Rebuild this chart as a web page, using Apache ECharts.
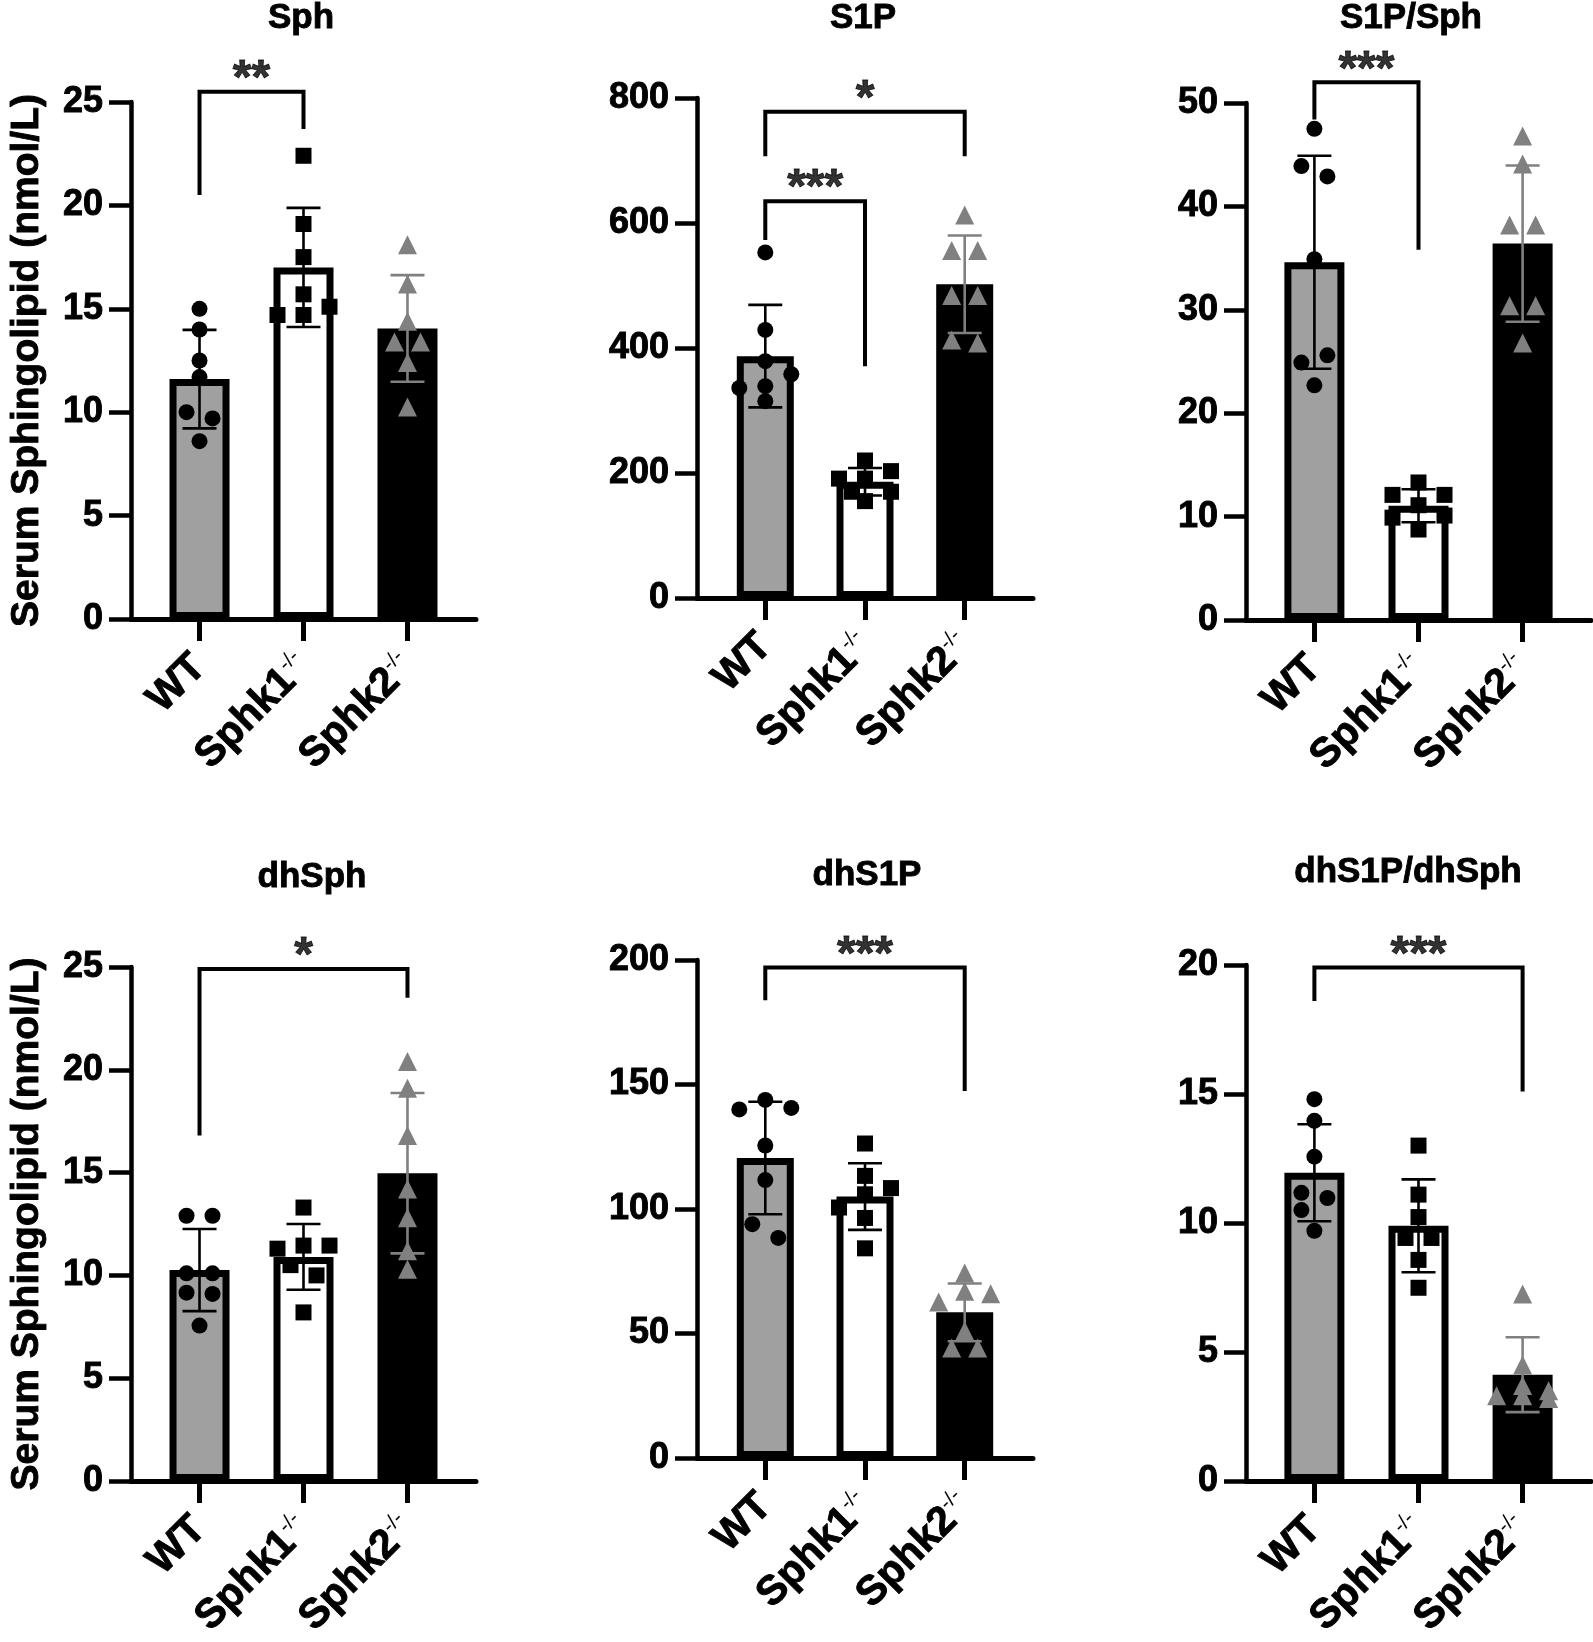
<!DOCTYPE html>
<html><head><meta charset="utf-8">
<script src="https://cdn.jsdelivr.net/npm/echarts@6/dist/echarts.min.js"></script>
<style>html,body{margin:0;padding:0;background:#fff}#c{width:1593px;height:1642px}</style>
</head><body><div id="c"></div>
<script>
// ---------------- DATA ----------------
const groups = ['WT', 'Sphk1', 'Sphk2'];
const panelTitles = ['Sph', 'S1P', 'S1P/Sph', 'dhSph', 'dhS1P', 'dhS1P/dhSph'];
const yMax = [25, 800, 50, 25, 200, 20];
const yStep = [5, 200, 10, 5, 50, 5];
const yName = 'Serum Sphingolipid (nmol/L)';

const sph_mean = [11.6, 17.0, 14.05];
const sph_sd = [2.38, 2.88, 2.58];
const sph_WT = [15.0, 14.0, 12.5, 11.7, 10.0, 9.7, 8.6];
const sph_Sphk1 = [22.4, 19.1, 17.5, 15.7, 15.1, 14.7, 14.7];
const sph_Sphk2 = [18.1, 16.2, 14.4, 13.4, 13.4, 12.4, 10.25];
const sph_sig = [[0, 1, 25.5, 20.5, 23.7, '**']];

const s1p_mean = [387, 186, 502];
const s1p_sd = [82, 22, 78];
const s1p_WT = [553, 429, 379, 358, 339, 336, 315];
const s1p_Sphk1 = [220, 203, 191, 191, 170, 170, 155];
const s1p_Sphk2 = [613, 556, 556, 484, 484, 408, 413];
const s1p_sig = [[0, 1, 635, 573, 371, '***'], [0, 2, 778, 707, 707, '*']];

const ratio_mean = [34.6, 11.05, 36.4];
const ratio_sd = [10.3, 1.6, 7.55];
const ratio_WT = [47.5, 43.9, 42.9, 34.9, 25.6, 24.9, 22.7];
const ratio_Sphk1 = [13.3, 12.1, 12.1, 11.1, 10.1, 9.9, 8.75];
const ratio_Sphk2 = [46.8, 44.1, 38.2, 38.2, 30.4, 30.4, 26.8];
const ratio_sig = [[0, 1, 52.0, 48.4, 35.8, '***']];

const dhsph_mean = [10.26, 10.9, 14.97];
const dhsph_sd = [2.0, 1.6, 3.9];
const dhsph_WT = [12.9, 12.9, 10.1, 10.1, 9.16, 9.1, 7.56];
const dhsph_Sphk1 = [13.3, 11.45, 11.45, 11.3, 10.5, 10.0, 8.2];
const dhsph_Sphk2 = [20.4, 19.1, 16.8, 14.2, 12.8, 11.2, 10.3];
const dhsph_sig = [[0, 2, 24.9, 16.8, 23.5, '*']];

const dhs1p_mean = [120.5, 105.0, 58.5];
const dhs1p_sd = [22.6, 13.4, 11.6];
const dhs1p_WT = [143.8, 140.6, 140.0, 125.5, 111.6, 93.9, 88.4];
const dhs1p_Sphk1 = [126.3, 113.3, 108.4, 105.9, 100.6, 96.4, 84.2];
const dhs1p_Sphk2 = [74.3, 67.0, 66.0, 62.7, 51.0, 44.2, 44.2];
const dhs1p_sig = [[0, 2, 197, 183.8, 147.4, '***']];

const dhratio_mean = [11.95, 9.89, 4.12];
const dhratio_sd = [1.88, 1.8, 1.45];
const dhratio_WT = [14.8, 13.96, 12.57, 11.17, 10.97, 10.5, 9.7];
const dhratio_Sphk1 = [13.0, 11.1, 10.23, 9.42, 9.42, 8.57, 7.49];
const dhratio_Sphk2 = [7.25, 4.5, 3.7, 3.5, 3.3, 3.3, 3.2];
const dhratio_sig = [[0, 2, 19.9, 18.6, 15.1, '***']];

const panelData = [
  { mean: sph_mean, sd: sph_sd, pts: [sph_WT, sph_Sphk1, sph_Sphk2], sig: sph_sig },
  { mean: s1p_mean, sd: s1p_sd, pts: [s1p_WT, s1p_Sphk1, s1p_Sphk2], sig: s1p_sig },
  { mean: ratio_mean, sd: ratio_sd, pts: [ratio_WT, ratio_Sphk1, ratio_Sphk2], sig: ratio_sig },
  { mean: dhsph_mean, sd: dhsph_sd, pts: [dhsph_WT, dhsph_Sphk1, dhsph_Sphk2], sig: dhsph_sig },
  { mean: dhs1p_mean, sd: dhs1p_sd, pts: [dhs1p_WT, dhs1p_Sphk1, dhs1p_Sphk2], sig: dhs1p_sig },
  { mean: dhratio_mean, sd: dhratio_sd, pts: [dhratio_WT, dhratio_Sphk1, dhratio_Sphk2], sig: dhratio_sig }
];

// ---------------- LAYOUT / STYLE ----------------
const FONT = '"Liberation Sans", Arial, Helvetica, sans-serif';
const layout = [
  { left: 131, top: 102, width: 345, height: 517, pad: 0.659, bw: 60, tx: 301, ty: 18 },
  { left: 697, top: 98, width: 336, height: 500, pad: 0.685, bw: 57, tx: 863, ty: 18 },
  { left: 1246, top: 103, width: 345, height: 517, pad: 0.657, bw: 60, tx: 1411, ty: 18 },
  { left: 131, top: 967, width: 345, height: 514, pad: 0.659, bw: 60, tx: 312, ty: 877 },
  { left: 697, top: 960, width: 336, height: 498, pad: 0.685, bw: 57, tx: 867, ty: 875 },
  { left: 1246, top: 965, width: 345, height: 516, pad: 0.657, bw: 60, tx: 1408, ty: 872 }
];
const barFill = ['#a0a0a0', '#ffffff', '#000000'];
const markColor = ['#000000', '#000000', '#808080'];
const symbols = ['circle', 'rect', 'triangle'];
const symSize = [16, 16, 19];
const RX = 24, RY = 14, STEP = 13;
const HEAVY = { textBorderColor: '#000', textBorderWidth: 0.9 };

// Prism-like spreading: points whose values would overlap are pushed sideways
function spread(values, pxPerY, pxPerX) {
  const pts = values.map(v => ({ v: v, y: v * pxPerY, x: 0 })).sort((a, b) => b.v - a.v);
  const placed = [];
  let side = 1;
  pts.forEach(p => {
    const cands = [0, side * 2 * STEP, -side * 2 * STEP, side * STEP, -side * STEP];
    let best = 0, bestCost = Infinity;
    for (const c of cands) {
      let cost = 0;
      placed.forEach(q => {
        const d2 = Math.pow((c - q.x) / RX, 2) + Math.pow((p.y - q.y) / RY, 2);
        if (d2 < 1) cost += 1 - d2;
      });
      if (cost < bestCost - 1e-9) { bestCost = cost; best = c; }
      if (cost === 0) break;
    }
    p.x = best;
    if (best !== 0) side = -Math.sign(best);
    placed.push(p);
  });
  let i = 0;
  while (i < pts.length) {
    let j = i;
    while (j + 1 < pts.length && pts[j].y - pts[j + 1].y < RY) j++;
    const xs = pts.slice(i, j + 1).map(p => p.x);
    const sh = (Math.min.apply(null, xs) + Math.max.apply(null, xs)) / 2;
    for (let k = i; k <= j; k++) pts[k].x -= sh;
    i = j + 1;
  }
  return pts.map(p => [p.x / pxPerX, p.v]);
}

const option = { animation: false, backgroundColor: '#fff', grid: [], xAxis: [], yAxis: [], series: [], graphic: [] };

layout.forEach((L, i) => {
  const D = panelData[i];
  option.grid.push({ left: L.left, top: L.top, width: L.width, height: L.height });
  option.graphic.push({ type: 'text', x: L.tx, y: L.ty, style: Object.assign({ text: panelTitles[i], font: 'bold 35px ' + FONT, fill: '#000', align: 'center', verticalAlign: 'middle', stroke: '#000', lineWidth: 0.9 }) });
  option.xAxis.push({
    type: 'value', gridIndex: i, min: -L.pad, max: 2 + L.pad,
    splitLine: { show: false },
    axisLine: { show: true, onZero: false, lineStyle: { color: '#000', width: 5 } },
    axisTick: { show: true, customValues: [0, 1, 2], length: 22, lineStyle: { color: '#000', width: 5 } },
    axisLabel: {
      show: true, customValues: [0, 1, 2], rotate: 45, margin: 42,
      formatter: v => { const g = groups[Math.round(v)]; return g === 'WT' ? '{a|WT}' : '{a|' + g + '}{s|-/-}'; },
      rich: {
        a: Object.assign({ fontFamily: FONT, fontSize: 41, fontWeight: 'bold', color: '#000', lineHeight: 42 }, HEAVY),
        s: { fontFamily: FONT, fontSize: 21, color: '#000', verticalAlign: 'top', lineHeight: 42 }
      }
    }
  });
  option.yAxis.push({
    type: 'value', gridIndex: i, min: 0, max: yMax[i], interval: yStep[i],
    splitLine: { show: false },
    axisLine: { show: true, onZero: false, lineStyle: { color: '#000', width: 4.5 } },
    axisTick: { show: true, length: 22, lineStyle: { color: '#000', width: 4.5 } },
    axisLabel: Object.assign({ fontFamily: FONT, fontSize: 36, fontWeight: 'bold', color: '#000', margin: 28 }, HEAVY),
    name: (i === 0 || i === 3) ? yName : '',
    nameLocation: 'middle', nameRotate: 90, nameGap: 84,
    nameTextStyle: Object.assign({ fontFamily: FONT, fontSize: 39, fontWeight: 'bold', color: '#000' }, HEAVY)
  });
  const pxPerY = L.height / yMax[i];
  const pxPerX = L.width / (2 + 2 * L.pad);

  // bars
  option.series.push({
    type: 'bar', xAxisIndex: i, yAxisIndex: i, barWidth: L.bw, z: 2,
    data: D.mean.map((m, j) => ({ value: [j, m], itemStyle: { color: barFill[j], borderColor: '#000', borderWidth: 7 } }))
  });
  // error bars (mean ± SD)
  option.series.push({
    type: 'custom', xAxisIndex: i, yAxisIndex: i, z: 3, clip: false,
    data: D.mean.map((m, j) => [j, m, D.sd[j]]),
    renderItem: (params, api) => {
      const x = api.value(0), m = api.value(1), s = api.value(2);
      const t = api.coord([x, m + s]), b = api.coord([x, m - s]);
      const c = markColor[params.dataIndex];
      const st = { stroke: c, lineWidth: 2.6 };
      return { type: 'group', children: [
        { type: 'line', shape: { x1: t[0], y1: t[1], x2: b[0], y2: b[1] }, style: st },
        { type: 'line', shape: { x1: t[0] - 17, y1: t[1], x2: t[0] + 17, y2: t[1] }, style: st },
        { type: 'line', shape: { x1: b[0] - 17, y1: b[1], x2: b[0] + 17, y2: b[1] }, style: st }
      ] };
    }
  });
  // individual points
  D.pts.forEach((vals, j) => {
    option.series.push({
      type: 'scatter', xAxisIndex: i, yAxisIndex: i, z: 4, clip: false,
      symbol: symbols[j], symbolSize: symSize[j],
      itemStyle: { color: markColor[j], opacity: 1 },
      data: spread(vals, pxPerY, pxPerX).map(p => [j + p[0], p[1]])
    });
  });
  // significance brackets
  D.sig.forEach(s => {
    option.series.push({
      type: 'line', xAxisIndex: i, yAxisIndex: i, z: 5, clip: false, symbol: 'none',
      lineStyle: { color: '#000', width: 4, cap: 'butt', join: 'miter' },
      data: [[s[0], s[3]], [s[0], s[2]], [s[1], s[2]], [s[1], s[4]]]
    });
    option.series.push({
      type: 'scatter', xAxisIndex: i, yAxisIndex: i, z: 5, clip: false,
      symbolSize: 1, itemStyle: { color: 'rgba(0,0,0,0)' },
      label: Object.assign({ show: true, position: 'inside', formatter: s[5], fontFamily: FONT, fontSize: 48, fontWeight: 'bold', color: '#000', offset: [0, -12] }, HEAVY),
      data: [[(s[0] + s[1]) / 2, s[2]]]
    });
  });
});

const chart = echarts.init(document.getElementById('c'), null, { renderer: 'canvas' });
chart.setOption(option);
</script>
</body></html>
